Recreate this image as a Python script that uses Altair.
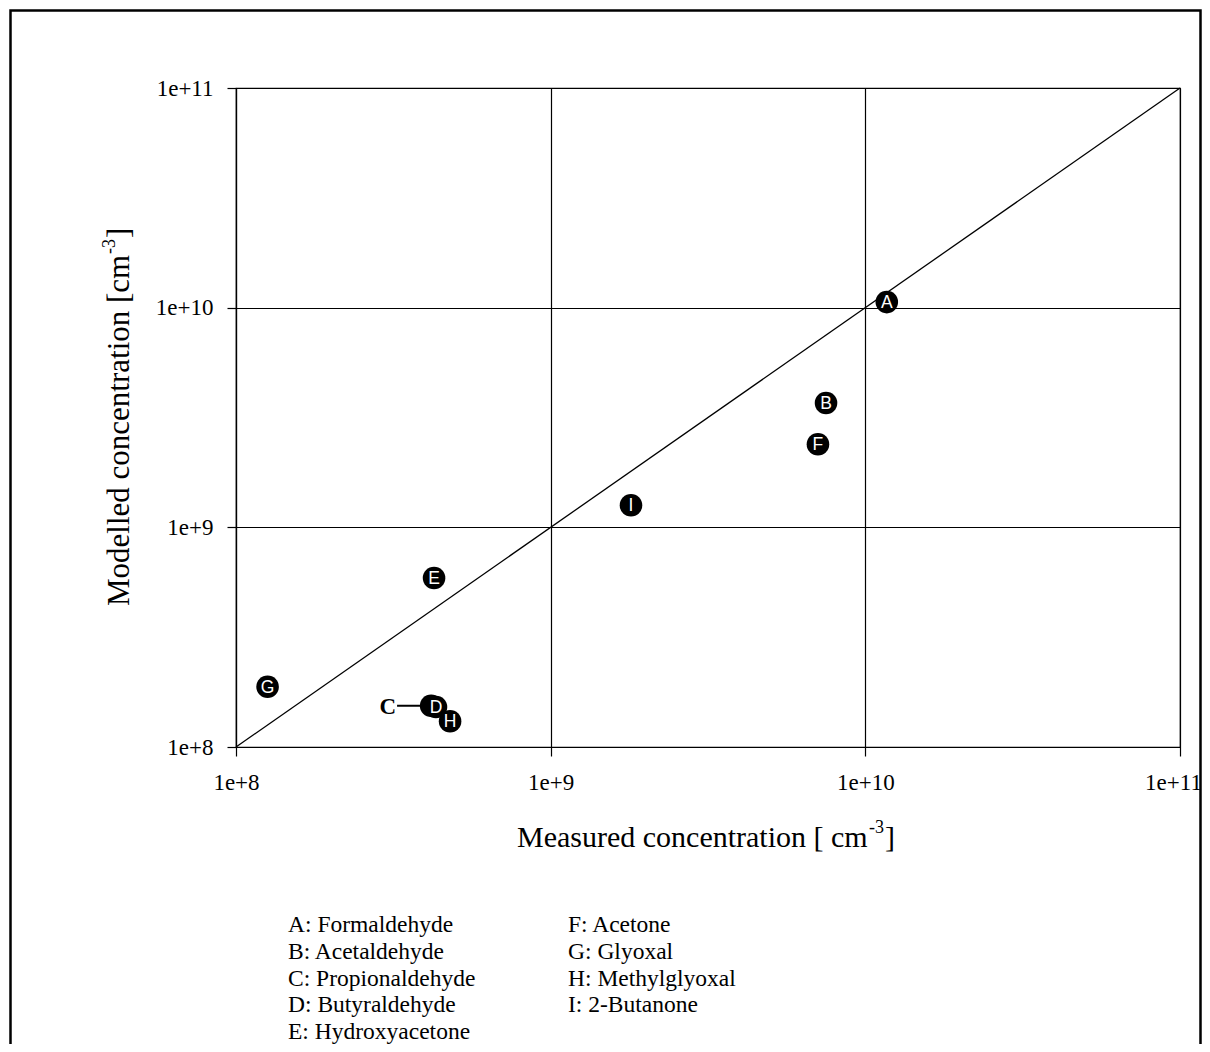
import altair as alt
import pandas as pd

# ---- data ----
letters = ["A", "B", "C", "D", "E", "F", "G", "H", "I"]
names = ["Formaldehyde", "Acetaldehyde", "Propionaldehyde", "Butyraldehyde",
         "Hydroxyacetone", "Acetone", "Glyoxal", "Methylglyoxal", "2-Butanone"]
measured = [1.17e10, 7.50e9, 4.17e8, 4.32e8, 4.26e8, 7.07e9, 1.26e8, 4.79e8, 1.80e9]
modelled = [1.06e10, 3.68e9, 1.54e8, 1.52e8, 5.88e8, 2.39e9, 1.88e8, 1.31e8, 1.26e9]
axis_ticks = [1e8, 1e9, 1e10, 1e11]
c_label_measured = 3.25e8  # where the "C" leader line ends on the left

x_title = "Measured concentration [ cm"
y_title = "Modelled concentration [cm"
sup_text = "-3"

pts = pd.DataFrame({"letter": letters, "name": names,
                    "measured": measured, "modelled": modelled})
diag = pd.DataFrame({"measured": [axis_ticks[0], axis_ticks[-1]],
                     "modelled": [axis_ticks[0], axis_ticks[-1]]})
c_row = pts[pts.letter == "C"].copy()
c_row["label_x"] = c_label_measured

W, H = 944, 659
SERIF = "Liberation Serif"

xscale = alt.Scale(type="log", domain=[axis_ticks[0], axis_ticks[-1]], nice=False)
yscale = alt.Scale(type="log", domain=[axis_ticks[0], axis_ticks[-1]], nice=False)
lab = "'1e+' + round(log(datum.value)/LN10)"
xaxis = alt.Axis(values=axis_ticks, labelExpr=lab, title=None, grid=True,
                 tickSize=9, labelPadding=15, labelFlush=False, labelOverlap=False,
                 labelOffset={"condition": {"test": "datum.value >= 1e11", "value": -7},
                              "value": 0})
yaxis = alt.Axis(values=axis_ticks, labelExpr=lab, title=None, grid=True,
                 tickSize=9, labelPadding=14, labelFlush=False, labelOverlap=False)

X = alt.X("measured:Q", scale=xscale, axis=xaxis)
Y = alt.Y("modelled:Q", scale=yscale, axis=yaxis)

dummy = pd.DataFrame({"d": [0]})

frame = alt.Chart(dummy).mark_rect(fill="transparent", stroke="black", strokeWidth=2.5).encode(
    x=alt.value(-225.5), x2=alt.value(964.5), y=alt.value(-77.5), y2=alt.value(970))

line = alt.Chart(diag).mark_line(color="black", strokeWidth=1.3).encode(x=X, y=Y)

leader = alt.Chart(c_row).mark_rule(color="black", strokeWidth=2).encode(
    x=alt.X("label_x:Q", scale=xscale, axis=xaxis), x2="measured:Q", y=Y)

circles = alt.Chart(pts).mark_circle(color="black", opacity=1, size=510).encode(x=X, y=Y)

letters_txt = alt.Chart(pts[pts.letter != "C"]).mark_text(
    color="white", font="Liberation Sans", fontSize=17.5, align="center",
    baseline="middle", dy=1).encode(x=X, y=Y, text="letter:N")

c_label = alt.Chart(c_row).mark_text(
    color="black", font=SERIF, fontSize=23, fontWeight="bold", align="right",
    baseline="middle", dx=-1, dy=1).encode(
    x=alt.X("label_x:Q", scale=xscale, axis=xaxis), y=Y, text="letter:N")

def txt(s, x, y, size, **kw):
    return alt.Chart(pd.DataFrame({"t": [s]})).mark_text(
        font=SERIF, fontSize=size, color="black", **kw).encode(
        x=alt.value(x), y=alt.value(y), text="t:N")

layers = [frame, line, leader, circles, letters_txt, c_label]

# x title with superscript
layers += [
    txt(x_title, 281, 759, 30, align="left", baseline="alphabetic"),
    txt(sup_text, 633, 745, 18, align="left", baseline="alphabetic"),
    txt("]", 649, 759, 30, align="left", baseline="alphabetic"),
]
# y title (rotated) with superscript
layers += [
    txt(y_title, -107, 518, 31, align="left", baseline="alphabetic", angle=270),
    txt(sup_text, -121, 166, 18, align="left", baseline="alphabetic", angle=270),
    txt("]", -107, 150, 31, align="left", baseline="alphabetic", angle=270),
]
# legend block of names
for i, (l, n) in enumerate(zip(letters, names)):
    col, row = divmod(i, 5)
    layers.append(txt(f"{l}: {n}", 52 + col * 280, 844 + row * 26.75, 23.5,
                      align="left", baseline="alphabetic"))

chart = alt.layer(*layers).properties(
    width=W, height=H,
    autosize=alt.AutoSizeParams(type="none"),
    padding={"left": 228, "top": 80, "right": 22, "bottom": 297},
    background="white",
).configure_view(stroke="black", strokeWidth=1.2).configure_axis(
    domainColor="black", domainWidth=1.2, tickColor="black", tickWidth=1.2,
    gridColor="black", gridOpacity=1, gridWidth=1.2,
    labelFont=SERIF, labelFontSize=23, labelColor="black",
)

chart.save("out.html", embed_options={"renderer": "svg", "actions": False})
